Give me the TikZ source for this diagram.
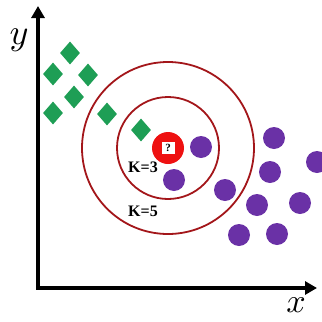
\documentclass[tikz,border=0pt]{standalone}
\usepackage{fontspec}
\setmainfont{Liberation Serif}
\usepackage{tikz}
\usetikzlibrary{shapes.geometric,arrows.meta}
\definecolor{knngreen}{HTML}{1E9E55}
\definecolor{knnpurple}{HTML}{6A31A6}
\definecolor{ringred}{HTML}{A3161A}
\definecolor{queryred}{HTML}{EE1111}

\begin{document}
\begin{tikzpicture}[x=1pt, y=-1pt,
    classA/.style={diamond, fill=knngreen, minimum width=20pt, minimum height=23pt, inner sep=0pt},
    classB/.style={circle, fill=knnpurple, minimum size=22pt, inner sep=0pt},
    ring/.style={draw=ringred, line width=1.8pt},
    axis/.style={line width=4pt, line join=miter,
                 {Triangle[length=12pt,width=13pt]}-{Triangle[length=12pt,width=13pt]}},
    klabel/.style={font=\bfseries\fontsize{16}{16}\selectfont}
]
\useasboundingbox (0,0) rectangle (322,322);

% axes
\coordinate (origin) at (38,288);
\coordinate (ytip) at (38,6);
\coordinate (xtip) at (317,288);
\draw[axis] (ytip) -- (origin) -- (xtip);
\node[scale=3.6] (ylab) at (19,40) {$y$};
\node[scale=3.4] (xlab) at (296,305) {$x$};

% query point and neighbourhoods
\node[circle, fill=queryred, minimum size=32pt, inner sep=0pt] (q) at (168,148) {};
\node[fill=white, minimum width=13pt, minimum height=12pt, inner sep=0pt,
      font=\bfseries\fontsize{11}{11}\selectfont] (qbox) at (q) {?};
\draw[ring] (q) circle[radius=51pt];
\draw[ring] (q) circle[radius=86pt];
\node[klabel] (k3) at (143,167) {K=3};
\node[klabel] (k5) at (143,211) {K=5};

% class A
\node[classA] (a1) at (70,53) {};
\node[classA] (a2) at (53,74) {};
\node[classA] (a3) at (88,75) {};
\node[classA] (a4) at (74,97) {};
\node[classA] (a5) at (53,113) {};
\node[classA] (a6) at (107,114) {};
\node[classA] (a7) at (141,130) {};

% class B
\node[classB] (b1) at (201,147) {};
\node[classB] (b2) at (174,180) {};
\node[classB] (b3) at (225,190) {};
\node[classB] (b4) at (257,205) {};
\node[classB] (b5) at (239,235) {};
\node[classB] (b6) at (277,234) {};
\node[classB] (b7) at (300,203) {};
\node[classB] (b8) at (270,172) {};
\node[classB] (b9) at (274,138) {};
\node[classB] (b10) at (317,162) {};
\end{tikzpicture}
\end{document}
